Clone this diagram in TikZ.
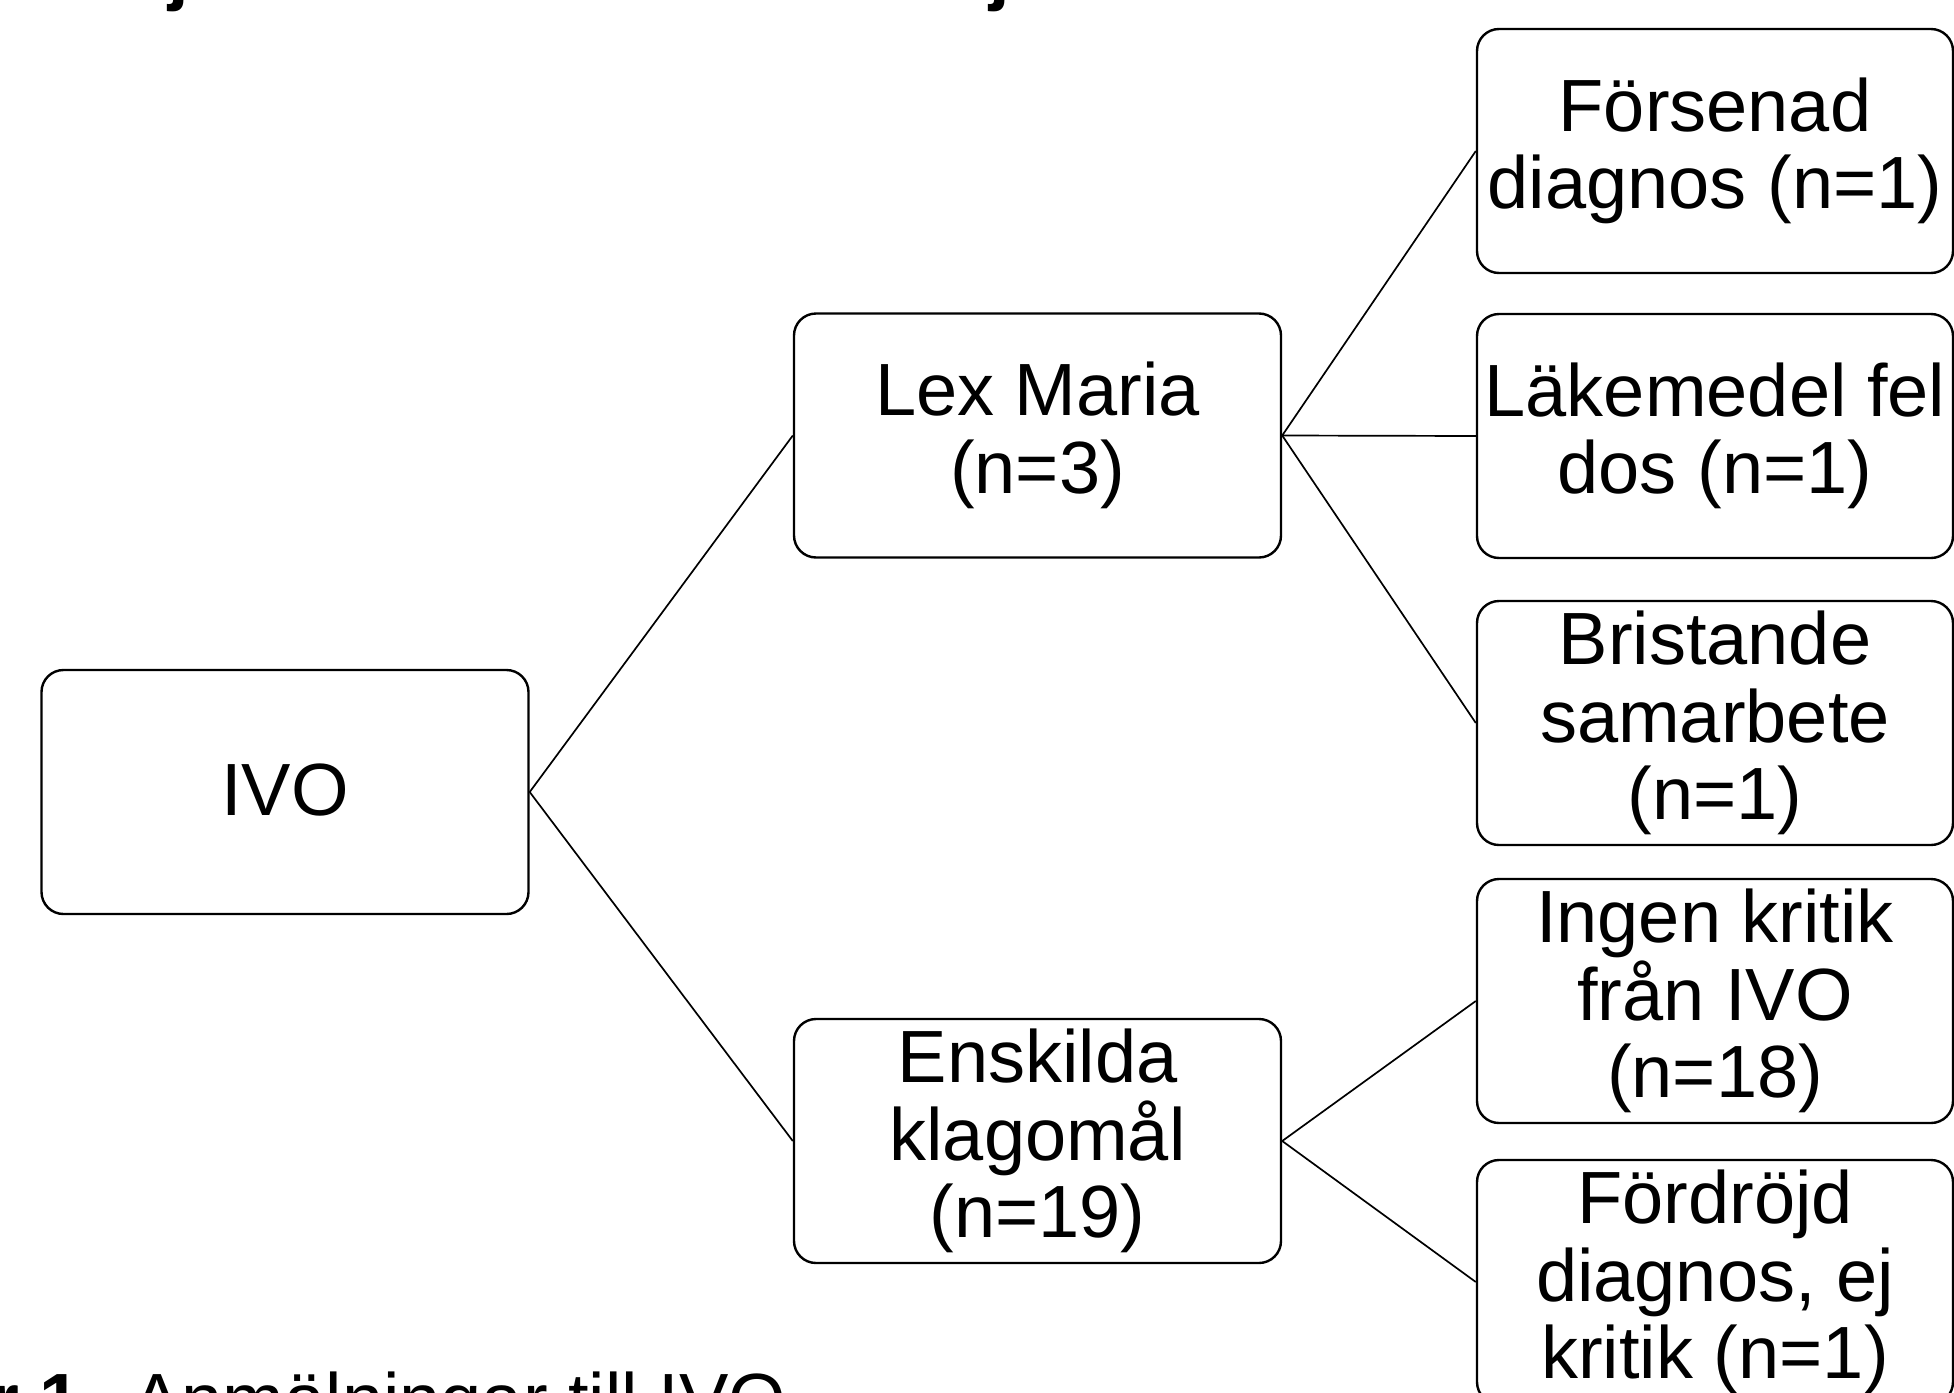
\documentclass[tikz,border=0pt]{standalone}
\usepackage{fontspec}
\setmainfont{Liberation Sans}
\usetikzlibrary{positioning}
\newcommand{\boxstrut}{\rule[-7.8pt]{0pt}{38.8pt}}
\tikzset{
  box style/.style={rectangle, rounded corners=11pt, draw, line width=1.2pt,
    minimum width=243.5pt, minimum height=122pt, align=center, inner sep=0pt,
    font=\fontsize{37}{38.75}\selectfont,
    execute at begin node=\boxstrut, execute at end node=\boxstrut},
  leaf style/.style={box style, minimum width=238pt},
  link style/.style={line width=0.85pt},
  cap style/.style={inner sep=0pt, font=\fontsize{37}{38.75}\selectfont}
}

\begin{document}
\begin{tikzpicture}[x=0.5pt, y=-0.5pt]
\useasboundingbox (0,0) rectangle (1954,1392);
\node[box style] (ivo) at (285,792) {IVO};
\node[box style] (lex) at (1037.5,435.5) {Lex Maria\\(n=3)};
\node[box style] (ensk) at (1037.5,1141) {Enskilda\\klagomål\\(n=19)};
\node[leaf style] (fors) at (1715,151) {Försenad\\diagnos (n=1)};
\node[leaf style] (lake) at (1715,436) {Läkemedel fel\\dos (n=1)};
\node[leaf style] (brist) at (1715,723) {Bristande\\samarbete\\(n=1)};
\node[leaf style] (ingen) at (1715,1001) {Ingen kritik\\från IVO\\(n=18)};
\node[leaf style] (fordr) at (1715,1282) {Fördröjd\\diagnos, ej\\kritik (n=1)};
\draw[link style] (ivo.east) -- (lex.west);
\draw[link style] (ivo.east) -- (ensk.west);
\draw[link style] (lex.east) -- (fors.west);
\draw[link style] (lex.east) -- (lake.west);
\draw[link style] (lex.east) -- (brist.west);
\draw[link style] (ensk.east) -- (ingen.west);
\draw[link style] (ensk.east) -- (fordr.west);
\node[cap style, anchor=base west] (titlej1) at (168,-3.5) {\textbf{j}};
\node[cap style, anchor=base west] (titlej2) at (989,-3.5) {\textbf{j}};
\node[cap style, anchor=base west] (capnum) at (-10,1425) {\textbf{r 1.}};
\node[cap style, anchor=base west] (captxt) at (132,1425) {Anmälningar till IVO};
\end{tikzpicture}
\end{document}
